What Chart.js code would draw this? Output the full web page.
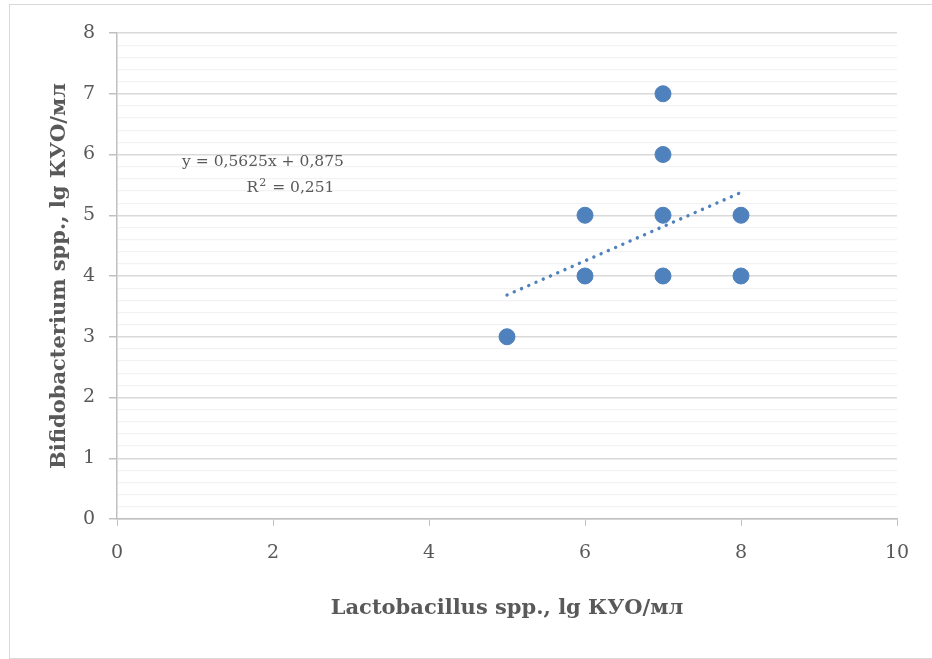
<!DOCTYPE html>
<html>
<head>
<meta charset="utf-8">
<title>Lactobacillus vs Bifidobacterium</title>
<script src="https://cdn.jsdelivr.net/npm/chart.js@4.4.1/dist/chart.umd.min.js"></script>
<style>
  html, body { margin: 0; padding: 0; background: #fff; overflow: hidden; }
  #wrap { position: absolute; left: 0; top: 0; width: 932px; height: 659px; }
  #frame { position: absolute; left: 9px; top: 4px; width: 940px; height: 653px; border: 1px solid #d9d9d9; }
</style>
</head>
<body>
<div id="frame"></div>
<div id="wrap"><canvas id="chart" width="932" height="659"></canvas></div>
<script>
// observed points (lg CFU/ml)
const lactoX = [5, 6, 6, 7, 7, 7, 7, 8, 8];
const bifidoY = [3, 4, 5, 4, 5, 6, 7, 4, 5];

// linear trend as printed on the chart
const slope = 0.5625;
const intercept = 0.875;
const trendX = [5, 8];

const xTicks = [0, 2, 4, 6, 8, 10];
const yTicks = [0, 1, 2, 3, 4, 5, 6, 7, 8];
const yMinorPerMajor = 5; // minor grid every 0.2

const xTitle = 'Lactobacillus spp., lg КУО/мл';
const yTitle = 'Bifidobacterium spp., lg КУО/мл';
const r2 = 0.251;

const gray = '#595959';
const blue = '#4F81BD';

const fmt = v => String(v).replace('.', ',');
const isMajor = v => Math.abs(v - Math.round(v)) < 1e-6;

const points = lactoX.map((x, i) => ({ x: x, y: bifidoY[i] }));
const trend = trendX.map(x => ({ x: x, y: slope * x + intercept }));

// equation label, placed like Excel's trendline label
const eqLabel = {
  id: 'eqLabel',
  afterDatasetsDraw(chart) {
    const c = chart.ctx;
    const a = chart.chartArea;
    const big = '15.5px "DejaVu Serif"';
    const small = '11px "DejaVu Serif"';
    c.save();
    c.fillStyle = gray;
    c.textBaseline = 'alphabetic';
    c.font = big;
    c.textAlign = 'center';
    c.fillText('y = ' + fmt(slope) + 'x + ' + fmt(intercept), a.left + 146, a.top + 133);

    // second line: R with a raised 2
    c.textAlign = 'left';
    const rest = ' = ' + fmt(r2);
    const wR = c.measureText('R').width;
    const wRest = c.measureText(rest).width;
    c.font = small;
    const w2 = c.measureText('2').width + 1;
    let x = a.left + 173 - (wR + w2 + wRest) / 2;
    const base = a.top + 159;
    c.font = big;
    c.fillText('R', x, base);
    x += wR + 1;
    c.font = small;
    c.fillText('2', x, base - 6);
    x += w2;
    c.font = big;
    c.fillText(rest, x, base);
    c.restore();
  }
};

const ctx = document.getElementById('chart').getContext('2d');
new Chart(ctx, {
  type: 'scatter',
  data: {
    datasets: [
      {
        data: points,
        backgroundColor: blue,
        borderColor: blue,
        pointRadius: 8,
        pointHoverRadius: 8
      },
      {
        type: 'line',
        data: trend,
        borderColor: blue,
        borderWidth: 3.4,
        borderDash: [0.1, 7.8],
        borderCapStyle: 'round',
        pointRadius: 0,
        fill: false
      }
    ]
  },
  options: {
    responsive: false,
    animation: false,
    layout: { padding: { left: 0, right: 35, top: 33, bottom: 0 } },
    plugins: { legend: { display: false }, tooltip: { enabled: false } },
    scales: {
      x: {
        type: 'linear',
        min: xTicks[0],
        max: xTicks[xTicks.length - 1],
        afterBuildTicks: s => { s.ticks = xTicks.map(v => ({ value: v })); },
        afterFit: s => { s.height = 140; },
        grid: { drawOnChartArea: false, tickLength: 7, tickColor: '#c0c0c0' },
        border: { color: '#c0c0c0', width: 1.5 },
        ticks: { color: gray, padding: 16, autoSkip: false, maxRotation: 0, font: { family: 'DejaVu Serif', size: 19 } },
        title: {
          display: true, text: xTitle, color: gray,
          font: { family: 'DejaVu Serif', size: 21, weight: 'bold' },
          padding: { top: 0, bottom: 38 }
        }
      },
      y: {
        type: 'linear',
        min: yTicks[0],
        max: yTicks[yTicks.length - 1],
        afterBuildTicks: s => {
          const t = [];
          for (let i = 0; i < yTicks.length; i++) {
            t.push({ value: yTicks[i] });
            if (i < yTicks.length - 1) {
              const step = (yTicks[i + 1] - yTicks[i]) / yMinorPerMajor;
              for (let k = 1; k < yMinorPerMajor; k++) t.push({ value: yTicks[i] + k * step });
            }
          }
          s.ticks = t;
        },
        afterFit: s => { s.width = 117; },
        grid: {
          color: c => isMajor(c.tick.value) ? '#d9d9d9' : '#f2f2f2',
          lineWidth: c => isMajor(c.tick.value) ? 1.5 : 1.2,
          tickColor: c => isMajor(c.tick.value) ? '#c0c0c0' : 'rgba(0,0,0,0)',
          tickLength: 8
        },
        border: { color: '#c0c0c0', width: 1.5 },
        ticks: {
          color: gray,
          padding: 14,
          autoSkip: false,
          font: { family: 'DejaVu Serif', size: 19 },
          callback: v => isMajor(v) ? String(Math.round(v)) : ''
        },
        title: {
          display: true, text: yTitle, color: gray,
          font: { family: 'DejaVu Serif', size: 21, weight: 'bold' },
          padding: { top: 47, bottom: 0 }
        }
      }
    }
  },
  plugins: [eqLabel]
});
</script>
</body>
</html>
